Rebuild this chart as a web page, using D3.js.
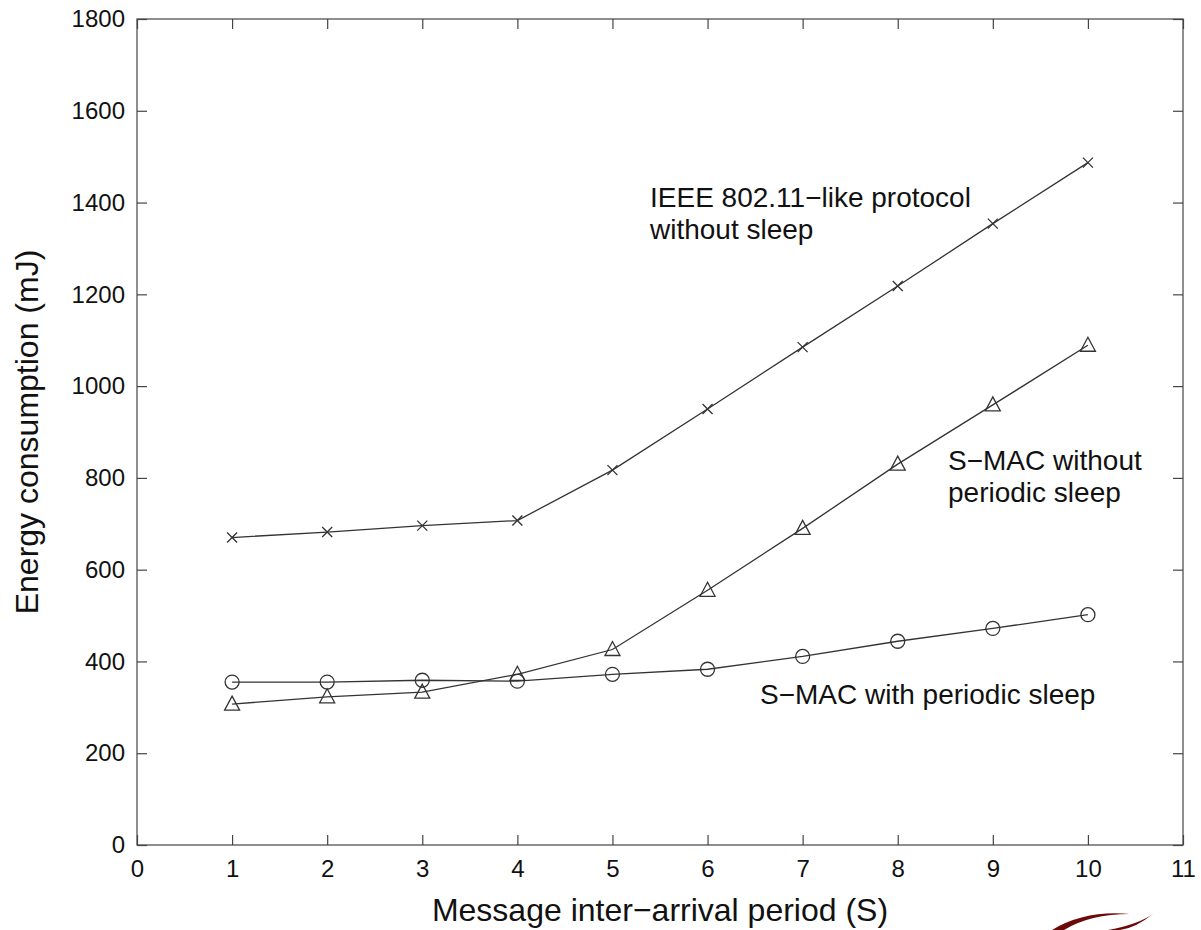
<!DOCTYPE html>
<html>
<head>
<meta charset="utf-8">
<script src="https://cdn.jsdelivr.net/npm/d3@7"></script>
<style>
  body { margin: 0; background: #fff; }
  text { font-family: "Liberation Sans", Arial, sans-serif; fill: #111; }
</style>
</head>
<body>
<svg id="chart" width="1201" height="930"></svg>
<script>
var xValues = [1, 2, 3, 4, 5, 6, 7, 8, 9, 10];
var ieeeNoSleep = [670, 682, 696, 707, 817, 950, 1085, 1218, 1354, 1487];
var smacNoSleep = [307, 323, 333, 372, 426, 555, 690, 830, 959, 1089];
var smacSleep = [355, 355, 359, 357, 372, 383, 411, 444, 472, 502];
var xTicks = [0, 1, 2, 3, 4, 5, 6, 7, 8, 9, 10, 11];
var yTicks = [0, 200, 400, 600, 800, 1000, 1200, 1400, 1600, 1800];

var margin = { top: 19, right: 18, bottom: 85, left: 137 },
    width = 1201 - margin.left - margin.right,
    height = 930 - margin.top - margin.bottom;

var svg = d3.select("#chart")
    .append("g")
    .attr("transform", "translate(" + margin.left + "," + margin.top + ")");

var x = d3.scaleLinear().domain([0, 11]).range([0, width]);
var y = d3.scaleLinear().domain([0, 1800]).range([height, 0]);

var axisColor = "#444";

// frame
svg.append("rect")
    .attr("width", width).attr("height", height)
    .attr("fill", "none").attr("stroke", axisColor).attr("stroke-width", 1.2);

// inward ticks on all four sides
function styleAxis(g) {
    g.select(".domain").remove();
    g.selectAll(".tick line").attr("stroke", axisColor).attr("stroke-width", 1.2);
    g.selectAll(".tick text").style("font-size", "24px").attr("fill", "#111");
}

svg.append("g")
    .attr("transform", "translate(0," + height + ")")
    .call(d3.axisBottom(x).tickValues(xTicks).tickSizeInner(-10).tickPadding(15).tickFormat(d3.format("d")))
    .call(styleAxis);
svg.append("g")
    .call(d3.axisTop(x).tickValues(xTicks).tickSizeInner(-10).tickFormat(""))
    .call(styleAxis);
svg.append("g")
    .call(d3.axisLeft(y).tickValues(yTicks).tickSizeInner(-10).tickPadding(12).tickFormat(d3.format("d")))
    .call(styleAxis);
svg.append("g")
    .attr("transform", "translate(" + width + ",0)")
    .call(d3.axisRight(y).tickValues(yTicks).tickSizeInner(-10).tickFormat(""))
    .call(styleAxis);

// axis titles
svg.append("text")
    .attr("x", x(5.5)).attr("y", height + 76)
    .attr("text-anchor", "middle")
    .style("font-size", "32px")
    .text("Message inter\u2212arrival period (S)");

svg.append("text")
    .attr("transform", "translate(-99," + (height / 2) + ") rotate(-90)")
    .attr("text-anchor", "middle")
    .style("font-size", "32px")
    .text("Energy consumption (mJ)");

var series = [
    { name: "ieee", values: ieeeNoSleep, marker: "x" },
    { name: "smacNo", values: smacNoSleep, marker: "tri" },
    { name: "smac", values: smacSleep, marker: "circle" }
];

var line = d3.line()
    .x(function (d, i) { return x(xValues[i]); })
    .y(function (d) { return y(d); });

var lineColor = "#333";

svg.selectAll("myLines")
    .data(series)
    .enter()
    .append("path")
    .attr("d", function (d) { return line(d.values); })
    .attr("fill", "none")
    .attr("stroke", lineColor)
    .attr("stroke-width", 1.3);

var markerPaths = {
    x: "M-5,-5L5,5M-5,5L5,-5",
    tri: "M0,-8L7.5,6L-7.5,6Z",
    circle: d3.symbol().type(d3.symbolCircle).size(Math.PI * 49)()
};

series.forEach(function (s) {
    svg.append("g")
        .selectAll("path")
        .data(s.values)
        .enter()
        .append("path")
        .attr("transform", function (d, i) { return "translate(" + x(xValues[i]) + "," + y(d) + ")"; })
        .attr("d", markerPaths[s.marker])
        .attr("fill", "none")
        .attr("stroke", lineColor)
        .attr("stroke-width", 1.3);
});

// annotations
var notes = [
    { x: 513, y: 188, lines: ["IEEE 802.11\u2212like protocol", "without sleep"] },
    { x: 811, y: 451, lines: ["S\u2212MAC without", "periodic sleep"] },
    { x: 623, y: 685, lines: ["S\u2212MAC with periodic sleep"] }
];
notes.forEach(function (n) {
    var t = svg.append("text")
        .attr("x", n.x).attr("y", n.y)
        .style("font-size", "28px");
    n.lines.forEach(function (l, i) {
        t.append("tspan").attr("x", n.x).attr("dy", i === 0 ? 0 : 32).text(l);
    });
});

// logo swoosh in the corner
var logo = d3.select("#chart").append("g").attr("fill", "#6b0a0a");
logo.append("path").attr("d", "M1052,930 Q1085,910 1130,914 Q1090,914 1064,930 Z");
logo.append("path").attr("d", "M1108,930 Q1140,924 1154,913 Q1136,928 1120,930 Z");
</script>
</body>
</html>
